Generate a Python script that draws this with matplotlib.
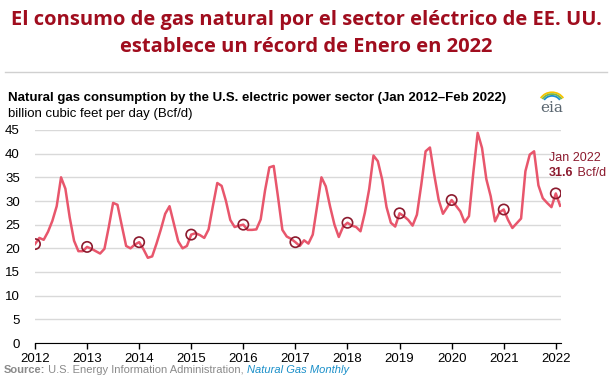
import matplotlib.pyplot as plt
from matplotlib.patches import Arc
import numpy as np

# monthly gas burn, Jan 2012 .. Feb 2022 (Bcf/d)
consumption = [
    20.9, 22.2, 21.8, 23.5, 25.8, 28.9, 35.0, 32.6, 26.5, 21.6, 19.4, 19.4,
    20.3, 19.9, 19.4, 18.9, 19.9, 24.5, 29.6, 29.2, 24.8, 20.5, 20.0, 20.8,
    21.3, 19.8, 18.0, 18.3, 21.0, 24.0, 27.3, 28.9, 25.2, 21.5, 20.0, 20.5,
    22.9, 23.2, 22.8, 22.2, 24.0, 29.0, 33.8, 33.2, 30.0, 26.0, 24.5, 24.8,
    25.0, 23.9, 23.9, 24.0, 26.1, 32.2, 37.1, 37.4, 30.8, 23.9, 22.5, 22.0,
    21.3, 20.5, 21.7, 21.0, 22.9, 28.9, 35.0, 33.1, 28.8, 25.0, 22.4, 24.6,
    25.4, 24.8, 24.5, 23.6, 27.5, 32.5, 39.6, 38.4, 34.5, 28.7, 25.4, 24.6,
    27.4, 26.8, 26.0, 24.8, 27.1, 33.4, 40.5, 41.3, 35.5, 30.3, 27.3, 28.7,
    30.2, 29.0, 27.8, 25.5, 26.8, 36.0, 44.4, 41.2, 34.6, 31.0, 25.7, 27.6,
    28.2, 26.0, 24.3, 25.3, 26.3, 36.3, 39.8, 40.5, 33.3, 30.6, 29.6, 28.7,
    31.6, 29.0,
]
start_year = 2012
year_ticks = list(range(2012, 2023))
y_ticks = [0, 5, 10, 15, 20, 25, 30, 35, 40, 45]

title = ('El consumo de gas natural por el sector eléctrico de EE. UU.\n'
         'establece un récord de Enero en 2022')
subtitle = ('Natural gas consumption by the U.S. electric power sector '
            '(Jan 2012\u2013Feb 2022)')
units = 'billion cubic feet per day (Bcf/d)'

LINE = '#e8566c'
DARK = '#8c1a2e'
TITLE_RED = '#a00d1e'

values = np.array(consumption)
dates = start_year + np.arange(len(values)) / 12.0
jan = np.arange(0, len(values), 12)

plt.rcParams['font.family'] = ['Liberation Sans', 'DejaVu Sans']

fig = plt.figure(figsize=(6.12, 3.76), dpi=100)
ax = fig.add_axes([35 / 612, 33 / 376, 526 / 612, 213 / 376])

ax.plot(dates, values, color=LINE, linewidth=1.8, zorder=3)
ax.scatter(dates[jan], values[jan], s=55, facecolors='none',
           edgecolors=DARK, linewidths=1.2, zorder=4)

ax.set_xlim(2012, 2022.1)
ax.set_ylim(0, 45)
ax.set_xticks(year_ticks)
ax.set_yticks(y_ticks)
ax.tick_params(axis='x', length=4, width=1, color='black', labelsize=9.5,
               pad=3)
ax.tick_params(axis='y', length=0, labelsize=9.5, pad=11)
ax.grid(axis='y', color='#d9d9d9', linewidth=1)
ax.set_axisbelow(True)
for side in ('left', 'right', 'top'):
    ax.spines[side].set_visible(False)
ax.spines['bottom'].set_color('black')
ax.spines['bottom'].set_zorder(5)

# label for the latest January
last = jan[-1]
ax.text(2021.87, 39.1, 'Jan 2022', color=DARK, fontsize=9, va='center',
        clip_on=False)
num = ax.text(2021.87, 36.0, '%.1f' % values[last], color=DARK, fontsize=9,
              fontweight='bold', va='center', clip_on=False)
ax.annotate(' Bcf/d', xy=(1, 0), xycoords=num, va='bottom', color=DARK,
            fontsize=9)

# headline
head = title.split('\n')
for line, ypix in zip(head, (20, 47)):
    fig.text(0.5, 1 - ypix / 376, line, ha='center', va='center',
             fontsize=14.5, fontweight='bold', color=TITLE_RED,
             family=['Open Sans', 'DejaVu Sans'])
fig.add_artist(plt.Line2D([5 / 612, 607 / 612], [1 - 72 / 376] * 2,
                          color='#d0d0d0', linewidth=1))

fig.text(8 / 612, 1 - 98 / 376, subtitle, fontsize=9.5, fontweight='bold',
         va='center')
fig.text(8 / 612, 1 - 114 / 376, units, fontsize=9.5, va='center')

# eia logo
fig.text(552 / 612, 1 - 108 / 376, 'eia', fontsize=11, color='#5a6670',
         family='DejaVu Serif', ha='center', va='center')
for w, col in ((26, '#f6c400'), (22, '#7ab648'), (18, '#1c8fd0')):
    fig.add_artist(Arc((552 / 612, 1 - 104 / 376), w / 612, w / 376 * 0.9,
                       theta1=40, theta2=140, color=col, linewidth=1.3,
                       transform=fig.transFigure))

# source line
src = fig.text(4 / 612, 3 / 376, 'Source:', fontsize=8, color='#8a8a8a',
               fontweight='bold', va='baseline')
src2 = fig.text(0, 0, ' U.S. Energy Information Administration, ',
                fontsize=8, color='#8a8a8a')
fig.canvas.draw()
r = fig.canvas.get_renderer()
bb = src.get_window_extent(r)
src2.set_position((bb.x1 / 612, 3 / 376))
src2.set_va('baseline')
bb2 = src2.get_window_extent(r)
fig.text(bb2.x1 / 612, 3 / 376, 'Natural Gas Monthly', fontsize=8,
         color='#1a8fc9', style='italic', va='baseline')

fig.savefig('out.png', dpi=100)
